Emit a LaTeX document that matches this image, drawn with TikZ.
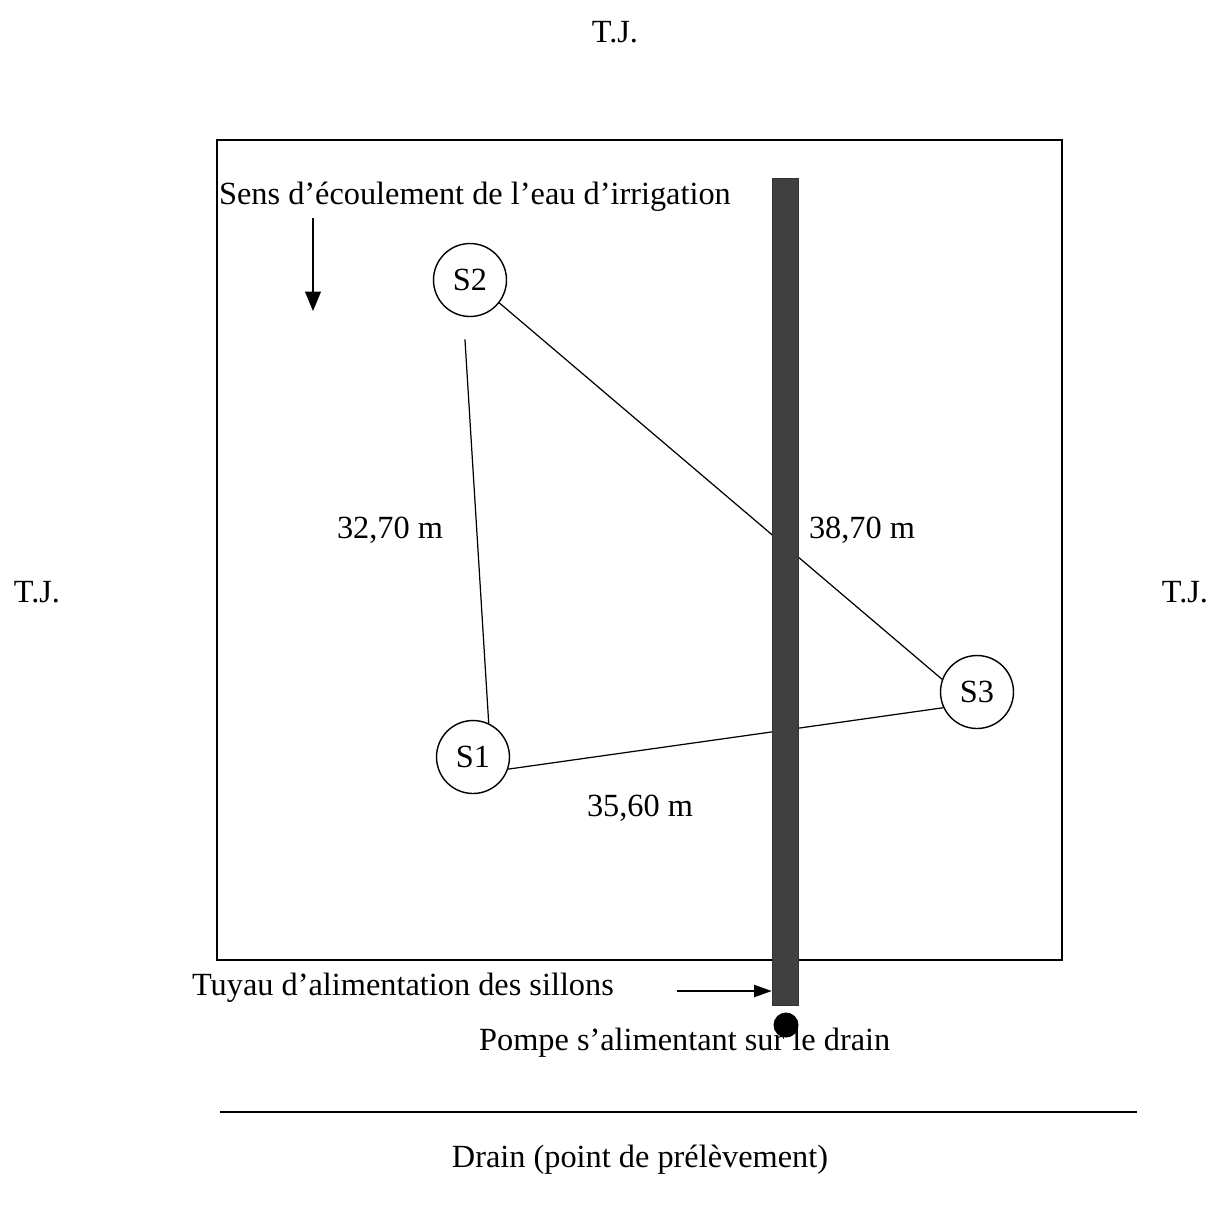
\documentclass[tikz,border=0pt]{standalone}
\usepackage{fontspec}
\setmainfont{Liberation Serif}
\usetikzlibrary{arrows.meta,positioning,calc}

\begin{document}
\begin{tikzpicture}[x=0.02cm,y=-0.02cm,
			every node/.style={font=\fontsize{18.4}{22}\selectfont, text=black},
			station node/.style={circle, draw=black, line width=0.8pt, minimum size=1.46cm, inner sep=0pt},
			label node/.style={inner sep=1pt},
			pipe node/.style={rectangle, draw=black!80, fill=black!75, minimum width=0.52cm, minimum height=16.54cm, inner sep=0pt},
			pump node/.style={circle, fill=black, minimum size=0.5cm, inner sep=0pt},
			link/.style={line width=0.7pt, black},
			flow/.style={line width=0.7pt, black, -{Triangle[width=9pt,length=11pt]}}]
			\useasboundingbox (0,0) rectangle (1218,1205);
			
			% field and drain
			\draw[line width=0.8pt] (217,140) rectangle (1062,960);
			\draw[line width=0.8pt] (220,1112) -- (1137,1112);
			
			\node[label node] (tjtop) at (615,32) {T.J.};
			\node[label node] (tjleft) at (37,592) {T.J.};
			\node[label node] (tjright) at (1185,592) {T.J.};
			
			\node[label node,anchor=base west] (sens) at (217,204) {Sens d’écoulement de l’eau d’irrigation};
			\coordinate (flowtop) at (313,218);
			\coordinate (flowend) at (313,311);
			\draw[flow] (flowtop) -- (flowend);
			
			\node[station node] (S2) at (470,280) {S2};
			\node[station node] (S1) at (473,757) {S1};
			\node[station node] (S3) at (977,692) {S3};
			
			\draw[link,shorten <=13pt] (S2.260) -- (S1.65);
			\draw[link] (S2.-38) -- (S3.160);
			\draw[link] (S1.-19) -- (S3.205);
			
			\node[label node] (d12) at (390,530) {32,70 m};
			\node[label node] (d23) at (862,530) {38,70 m};
			\node[label node] (d13) at (640,808) {35,60 m};
			
			\node[pipe node] (pipe) at (785,591.5) {};
			
			\node[label node,anchor=west] (tuyau) at (190,988) {Tuyau d’alimentation des sillons};
			\coordinate (tuyaustart) at (677,991);
			\draw[flow,-{Triangle[width=7pt,length=10pt]}] (tuyaustart) -- (tuyaustart -| pipe.west);
			
			\node[label node,anchor=west] (pompe) at (477,1043) {Pompe s’alimentant sur le drain};
			\node[pump node] (pump) at (786,1025) {};
			
			\node[label node] (drain) at (640,1160) {Drain (point de prélèvement)};
		\end{tikzpicture}
\end{document}
